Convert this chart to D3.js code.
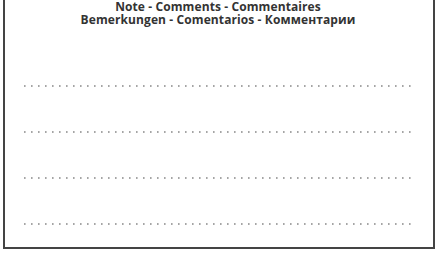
<!DOCTYPE html>
<html>
<head>
<meta charset="utf-8">
<script src="https://cdn.jsdelivr.net/npm/d3@7"></script>
<style>
  body { margin: 0; background: #fff; }
  svg { display: block; }
</style>
</head>
<body>
<svg id="chart" width="436" height="263"></svg>
<script>
const titleLines = ["Note - Comments - Commentaires", "Bemerkungen - Comentarios - Комментарии"]
const writingLines = [1, 2, 3, 4]

const svg = d3.select("#chart")
const W = 436, H = 263

// frame, open at the top
svg.append("path")
    .attr("d", `M4,0 V248 H434 V0`)
    .attr("fill", "none")
    .attr("stroke", "#444")
    .attr("stroke-width", 2)

const ty = d3.scalePoint().domain(titleLines).range([11, 24])
svg.selectAll("text.title")
    .data(titleLines)
    .enter()
    .append("text")
        .attr("class", "title")
        .attr("x", W / 2)
        .attr("y", d => ty(d))
        .attr("text-anchor", "middle")
        .style("font-family", "'Open Sans', sans-serif")
        .style("font-weight", "bold")
        .style("font-size", "12px")
        .style("letter-spacing", "0.1px")
        .style("fill", "#333")
        .text(d => d)

const y = d3.scalePoint().domain(writingLines).range([86, 224])
svg.selectAll("line.dots")
    .data(writingLines)
    .enter()
    .append("line")
        .attr("class", "dots")
        .attr("x1", 24)
        .attr("x2", 416)
        .attr("y1", d => y(d))
        .attr("y2", d => y(d))
        .attr("stroke", "#888")
        .attr("stroke-width", 1.6)
        .attr("stroke-dasharray", "1.6,5.4")
</script>
</body>
</html>
